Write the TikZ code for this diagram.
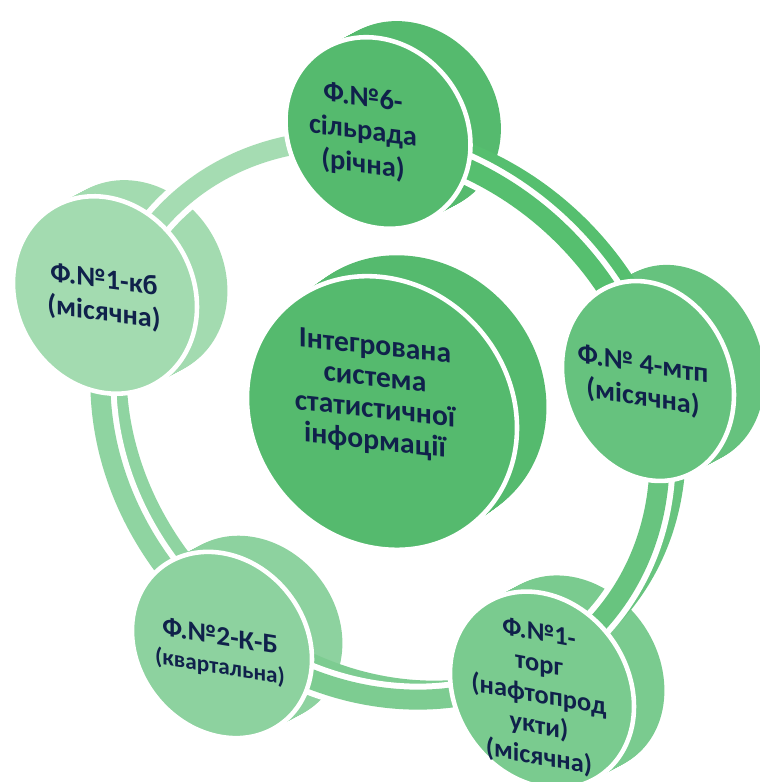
\documentclass[tikz,border=0pt]{standalone}
\usepackage{fontspec}
\setmainfont{Carlito}
\usetikzlibrary{shapes.geometric}
\definecolor{txt}{HTML}{10214B}
\definecolor{cC}{HTML}{55BA6E}
\definecolor{cT}{HTML}{55BA6E}
\definecolor{cR}{HTML}{66C27E}
\definecolor{cBR}{HTML}{7ACB8F}
\definecolor{cBL}{HTML}{8DD29F}
\definecolor{cL}{HTML}{A3DBB0}
\definecolor{rS1}{HTML}{A5DCB2}
\definecolor{rS2}{HTML}{56BF6F}
\definecolor{rS3}{HTML}{68C47F}
\definecolor{rS4}{HTML}{7DCC91}
\definecolor{rS5}{HTML}{8FD4A1}
\tikzset{
  face/.style={ellipse, draw=white, line width=1.3pt, inner sep=0pt, transform shape},
  lbl/.style={text=txt, align=center, transform shape, inner sep=0pt},
}
\def\ra{2.98}
\def\rb{2.60}
% x, y, rx, ry, slant, colour, dx, dy
\newcommand\diskside[8]{%
  \foreach \f in {0,0.05,...,1.0}{%
    \begin{scope}[shift={({#1+\f*#7},{#2+\f*#8})}, yslant=#5]
      \fill[#6] (0,0) ellipse[x radius=#3, y radius=#4];
    \end{scope}}}
% name, x, y, rx, ry, slant, colour
\newcommand\diskface[7]{%
  \begin{scope}[shift={(#2,#3)}, yslant=#6]
    \node[face, fill=#7, minimum width=#4*2cm, minimum height=#5*2cm] (#1) at (0,0) {};
  \end{scope}}
% name, x, y, slant, font, text
\newcommand\disktext[6]{%
  \begin{scope}[shift={(#2,#3)}, yslant=#4]
    \node[lbl, font=#5] (#1) at (0,0) {#6};
  \end{scope}}
% options, from, to, fraction of extrusion
\newcommand\ringdraw[4]{%
  \draw[#1, shift={({3.80+#4*0.18},{3.62+#4*0.10})}]
    plot[domain=#2:#3, samples=60] ({\x}:{\ra*\rb/sqrt((\rb*cos(\x-135))^2+(\ra*sin(\x-135))^2)});}
\begin{document}
\begin{tikzpicture}
\useasboundingbox (0,0) rectangle (7.6,7.82);
\clip (0,0) rectangle (7.6,7.82);
% disk sides
\diskside{3.82}{3.69}{1.35}{1.36}{-0.11}{cC}{0.31}{0.22}
\diskside{3.78}{6.49}{0.925}{0.95}{-0.13}{cT}{0.32}{0.17}
\diskside{6.48}{4.01}{0.86}{0.99}{-0.16}{cR}{0.32}{0.17}
\diskside{5.42}{0.92}{0.92}{0.97}{-0.18}{cBR}{0.32}{0.17}
\diskside{2.22}{1.37}{0.90}{0.92}{-0.16}{cBL}{0.32}{0.17}
\diskside{1.05}{4.87}{0.92}{0.98}{-0.13}{cL}{0.32}{0.17}
% ring sides
\foreach \g in {0,0.1,...,1.0}{%
  \ringdraw{rS1, line width=0.2cm}{90.4}{155.6}{\g}
  \ringdraw{rS2, line width=0.2cm}{8.3}{90.4}{\g}
  \ringdraw{rS3, line width=0.2cm}{-59}{8.3}{\g}
  \ringdraw{rS4, line width=0.2cm}{-125.1}{-59}{\g}
  \ringdraw{rS5, line width=0.2cm}{155.6}{234.9}{\g}
}
% ring front outline
\ringdraw{white, line width=0.32cm}{90.4}{155.6}{0}
\ringdraw{white, line width=0.32cm}{8.3}{90.4}{0}
\ringdraw{white, line width=0.32cm}{-59}{8.3}{0}
\ringdraw{white, line width=0.32cm}{-125.1}{-59}{0}
\ringdraw{white, line width=0.32cm}{155.6}{234.9}{0}
% ring fronts
\ringdraw{rS1, line width=0.2cm}{90.4}{155.6}{0}
\ringdraw{rS2, line width=0.2cm}{8.3}{90.4}{0}
\ringdraw{rS3, line width=0.2cm}{-59}{8.3}{0}
\ringdraw{rS4, line width=0.2cm}{-125.1}{-59}{0}
\ringdraw{rS5, line width=0.2cm}{155.6}{234.9}{0}
% faces
\diskface{fC}{3.82}{3.69}{1.35}{1.36}{-0.11}{cC}
\diskface{fT}{3.78}{6.49}{0.925}{0.95}{-0.13}{cT}
\diskface{fR}{6.48}{4.01}{0.86}{0.99}{-0.16}{cR}
\diskface{fBR}{5.42}{0.92}{0.92}{0.97}{-0.18}{cBR}
\diskface{fBL}{2.22}{1.37}{0.90}{0.92}{-0.16}{cBL}
\diskface{fL}{1.05}{4.87}{0.92}{0.98}{-0.13}{cL}
% texts
\disktext{tC}{3.75}{3.87}{-0.11}{\bfseries\fontsize{8.4pt}{9pt}\selectfont}{Інтегрована\\система\\статистичної\\інформації}
\disktext{tT}{3.63}{6.50}{-0.13}{\bfseries\fontsize{8.1pt}{9.5pt}\selectfont}{Ф.№6-\\сільрада\\(річна)}
\disktext{tR}{6.43}{4.00}{-0.16}{\bfseries\fontsize{8pt}{9.4pt}\selectfont}{Ф.№ 4-мтп\\(місячна)}
\disktext{tBR}{5.39}{0.86}{-0.18}{\bfseries\fontsize{7.5pt}{8.8pt}\selectfont}{Ф.№1-\\торг\\(нафтопрод\\укти)\\(місячна)}
\disktext{tBL}{2.20}{1.30}{-0.16}{\bfseries\fontsize{7.8pt}{8.2pt}\selectfont}{Ф.№2-К-Б\\{\fontsize{6.6pt}{8.2pt}\selectfont(квартальна)}}
\disktext{tL}{1.04}{4.85}{-0.13}{\bfseries\fontsize{8pt}{9.4pt}\selectfont}{Ф.№1-кб\\(місячна)}
\end{tikzpicture}
\end{document}
